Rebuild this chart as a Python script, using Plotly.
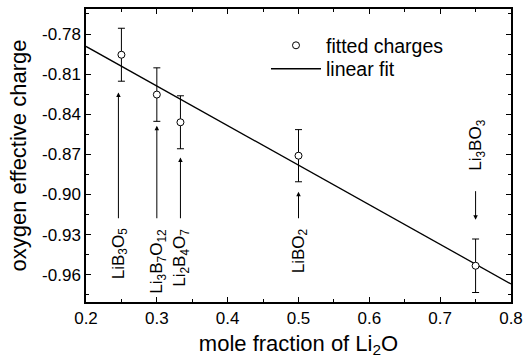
import plotly.graph_objects as go

# data
mole_fraction = [0.25, 0.30, 1/3, 0.50, 0.75]
charge = [-0.7955, -0.8253, -0.846, -0.871, -0.9533]
charge_err = [0.0198, 0.0200, 0.0198, 0.0195, 0.0200]
compounds = ["LiB<sub>3</sub>O<sub>5</sub>", "Li<sub>3</sub>B<sub>7</sub>O<sub>12</sub>",
             "Li<sub>2</sub>B<sub>4</sub>O<sub>7</sub>", "LiBO<sub>2</sub>", "Li<sub>3</sub>BO<sub>3</sub>"]
fit_x = [0.2, 0.8]
fit_y = [-0.7893, -0.9669]
x_ticks = [0.2, 0.3, 0.4, 0.5, 0.6, 0.7, 0.8]
y_ticks = [-0.96, -0.93, -0.90, -0.87, -0.84, -0.81, -0.78]

FONT = "Liberation Sans, Arial, sans-serif"
LABEL_SIZE = 17

fig = go.Figure()
fig.add_trace(go.Scatter(x=fit_x, y=fit_y, mode="lines", name="linear fit",
                         line=dict(color="black", width=1.3), legend="legend2"))
fig.add_trace(go.Scatter(x=mole_fraction, y=charge, mode="markers", name="fitted charges",
                         error_y=dict(type="data", array=charge_err, color="black",
                                      thickness=1, width=3.5),
                         marker=dict(symbol="circle", size=7, color="white",
                                     line=dict(color="black", width=1)),
                         legend="legend"))

# annotation layout (offsets in data units)
gaps = [0.0084, 0.0033, 0.0065, 0.0075]
tail_low = -0.9189
annotations = []
for i in range(4):
    xv = mole_fraction[i]
    head = charge[i] - charge_err[i] - gaps[i]
    xs = -3 if i == 0 else 0
    annotations.append(dict(x=xv, y=head, ax=xv, ay=tail_low, xref="x", yref="y",
                            axref="x", ayref="y", text="", showarrow=True,
                            arrowhead=2, arrowsize=0.9, arrowwidth=1, arrowcolor="black",
                            xshift=xs))
    annotations.append(dict(x=xv, y=-0.9238, xref="x", yref="y", text=compounds[i],
                            textangle=-90, showarrow=False, xanchor="center", yanchor="top",
                            xshift=xs + 1, font=dict(family=FONT, size=LABEL_SIZE, color="black")))
# Li3BO3 label above the point
xv = mole_fraction[4]
annotations.append(dict(x=xv, y=-0.9189, ax=xv, ay=-0.8964, xref="x", yref="y",
                        axref="x", ayref="y", text="", showarrow=True,
                        arrowhead=2, arrowsize=0.9, arrowwidth=1, arrowcolor="black"))
annotations.append(dict(x=xv, y=-0.8837, xref="x", yref="y", text=compounds[4],
                        textangle=-90, showarrow=False, xanchor="center", yanchor="bottom",
                        xshift=2, font=dict(family=FONT, size=LABEL_SIZE, color="black")))

axis_common = dict(showline=True, linecolor="black", linewidth=1.5, mirror="ticks",
                   ticks="inside", ticklen=5, tickwidth=1, tickcolor="black",
                   showgrid=False, zeroline=False, automargin=False,
                   tickfont=dict(family=FONT, size=17, color="black"))

legend_common = dict(xanchor="left", yanchor="middle", bgcolor="rgba(0,0,0,0)",
                     font=dict(family=FONT, size=19.5, color="black"), itemwidth=50,
                     xref="paper", yref="paper")

fig.update_layout(
    width=524, height=363,
    margin=dict(l=86, r=13, t=9, b=61),
    paper_bgcolor="white", plot_bgcolor="white",
    font=dict(family=FONT, color="black"),
    xaxis=dict(range=[0.2, 0.8], tickvals=x_ticks, ticktext=[f"{v:.1f}" for v in x_ticks],
               minor=dict(dtick=0.05, ticks="inside", ticklen=3, tickcolor="black"),
               title=dict(text="mole fraction of Li<sub>2</sub>O",
                          font=dict(family=FONT, size=22), standoff=8),
               **axis_common),
    yaxis=dict(range=[-0.9804, -0.7613], tickvals=y_ticks, ticktext=[f"{v:.2f}" for v in y_ticks],
               minor=dict(dtick=0.015, tick0=-0.96, ticks="inside", ticklen=3, tickcolor="black"),
               title=dict(text="oxygen effective charge",
                          font=dict(family=FONT, size=22), standoff=9),
               **axis_common),
    legend=dict(x=0.4235, y=0.875, **legend_common),
    legend2=dict(x=0.4235, y=0.795, **legend_common),
    showlegend=True,
    annotations=annotations,
)

fig.write_html("out.html", config={"displayModeBar": False},
               post_script="document.body.style.margin='0';document.body.style.overflow='hidden';")
